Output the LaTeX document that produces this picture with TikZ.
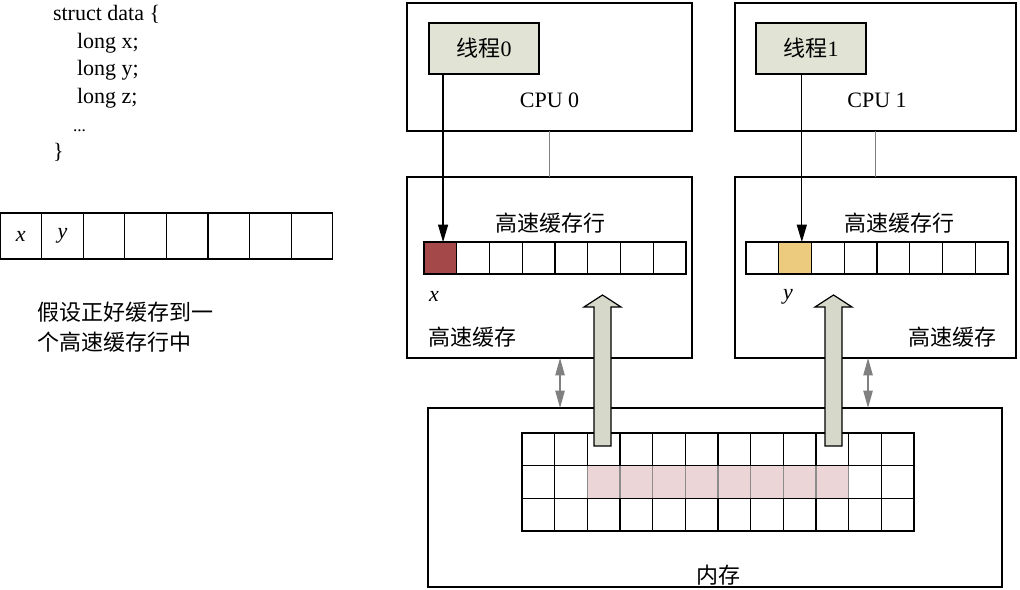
\documentclass[tikz,border=0pt]{standalone}
\usepackage{fontspec}
\setmainfont{Liberation Serif}
\newfontfamily\cjk{Noto Sans CJK SC}
\usetikzlibrary{arrows.meta}
\definecolor{threadfill}{HTML}{E1E4D5}
\definecolor{fatfill}{HTML}{D6D8C9}
\definecolor{xfill}{HTML}{A5484A}
\definecolor{yfill}{HTML}{ECCB7F}
\definecolor{linefill}{HTML}{ECD5D6}
\definecolor{linkgray}{HTML}{808080}

\begin{document}
\begin{tikzpicture}[
  x=0.75pt, y=-0.75pt,
  every node/.style={font=\fontsize{16.5}{22.5}\selectfont, inner sep=0pt, outer sep=0pt},
  box/.style={draw, line width=0.9pt},
  thread/.style={box, fill=threadfill, minimum width=82.5pt, minimum height=38.25pt},
  cpubox/.style={box, minimum height=96pt},
  cachebox/.style={box, minimum height=135.75pt},
  lcell/.style={draw, line width=1pt, minimum width=31.2pt, minimum height=34.5pt},
  ccell/.style={draw, line width=0.9pt, minimum width=24.56pt, minimum height=24pt},
  mcell/.style={draw, line width=0.9pt, minimum width=24.5pt, minimum height=24.5pt},
  codetext/.style={anchor=base west},
  tarrow/.style={line width=0.9pt, -{Triangle[length=13pt, width=7.5pt]}},
  link/.style={draw=linkgray, line width=1pt},
  gdouble/.style={draw=linkgray, line width=1pt,
                  {Triangle[length=13pt, width=7pt]}-{Triangle[length=13pt, width=7pt]}},
  fat/.style={draw, line width=0.9pt, fill=fatfill},
]
  \fill[white] (0,0) rectangle (1020,589);
  \useasboundingbox (0,0) rectangle (1020,589);

  % struct on the left
  \node[codetext] (s1) at (53,20) {struct data \{};
  \node[codetext] (s2) at (77,48) {long x;};
  \node[codetext] (s3) at (77,75) {long y;};
  \node[codetext] (s4) at (77,103) {long z;};
  \node[codetext, font=\fontsize{13}{15}\selectfont] (s5) at (73,131) {...};
  \node[codetext] (s6) at (53,158) {\}};

  % the struct laid out in one cache line
  \foreach \i in {0,...,7}
    \node[lcell] (d\i) at ({20.8+41.6*\i},236) {};
  \node at (d0) {\textit{x}};
  \node at (d1) {\textit{y}};
  \node[anchor=west, align=left] (note) at (37,327)
    {\cjk 假设正好缓存到一\\\cjk 个高速缓存行中};

  % CPU 0 and its cache
  \node[cpubox, minimum width=213.75pt] (cpu0) at (549.5,67) {};
  \node[thread] (t0) at (484,48.5) {{\cjk 线程}0};
  \node (cpu0lbl) at (549.5,100) {CPU 0};
  \node[cachebox, minimum width=213.75pt] (cache0) at (549.5,267.5) {};
  \node (line0lbl) at (550,223) {\cjk 高速缓存行};
  \foreach \i in {0,...,7}
    \node[ccell] (c0-\i) at ({440.4+32.75*\i},258) {};
  \node[ccell, fill=xfill] at (c0-0) {};
  \node (xlbl) at (434,296) {\textit{x}};
  \node[anchor=west] (cache0lbl) at (428,337) {\cjk 高速缓存};

  % CPU 1 and its cache
  \node[cpubox, minimum width=210.75pt] (cpu1) at (875.5,67) {};
  \node[thread] (t1) at (811,48.5) {{\cjk 线程}1};
  \node (cpu1lbl) at (877,100) {CPU 1};
  \node[cachebox, minimum width=210.75pt] (cache1) at (875.5,267.5) {};
  \node (line1lbl) at (899,223) {\cjk 高速缓存行};
  \foreach \i in {0,...,7}
    \node[ccell] (c1-\i) at ({762.4+32.75*\i},258) {};
  \node[ccell, fill=yfill] at (c1-1) {};
  \node (ylbl) at (788,297) {\textit{y}};
  \node[anchor=east] (cache1lbl) at (996,337) {\cjk 高速缓存};

  % main memory
  \node[box, minimum width=430.5pt, minimum height=134.25pt] (mem) at (715,497.5) {};
  \foreach \r in {0,1,2}
    \foreach \c in {0,...,11}
      \node[mcell] (m\r-\c) at ({538.3+32.67*\c},{449.3+32.67*\r}) {};
  \foreach \c in {2,...,9}
    \node[mcell, fill=linefill, draw=black!45] at (m1-\c) {};
  \draw[line width=0.9pt] (m1-2.north west) -- (m1-9.north east);
  \draw[line width=0.9pt] (m1-2.south west) -- (m1-9.south east);
  \node (memlbl) at (718,575) {\cjk 内存};

  % threads write into their cache lines
  \coordinate (a0) at ([xshift=2pt]c0-0.north);
  \coordinate (a1) at ([xshift=5pt]c1-1.north);
  \draw[tarrow] (t0.south -| a0) -- (a0);
  \draw[tarrow] (t1.south -| a1) -- (a1);

  % CPU to cache, cache to memory
  \draw[link] (cpu0.south) -- (cache0.north);
  \draw[link] (cpu1.south) -- (cache1.north);
  \coordinate (g0) at ([xshift=7.9pt]cache0.south);
  \coordinate (g1) at ([xshift=-5.6pt]cache1.south);
  \draw[gdouble] (g0) -- (g0 |- mem.north);
  \draw[gdouble] (g1) -- (g1 |- mem.north);

  % memory line loaded into the caches
  \draw[fat] (594,446) -- (594,307) -- (584,307) -- (602.5,295)
    -- (621,307) -- (611,307) -- (611,446) -- cycle;
  \draw[fat] (825,446) -- (825,307) -- (815,307) -- (833.5,295)
    -- (852,307) -- (842,307) -- (842,446) -- cycle;
\end{tikzpicture}
\end{document}
